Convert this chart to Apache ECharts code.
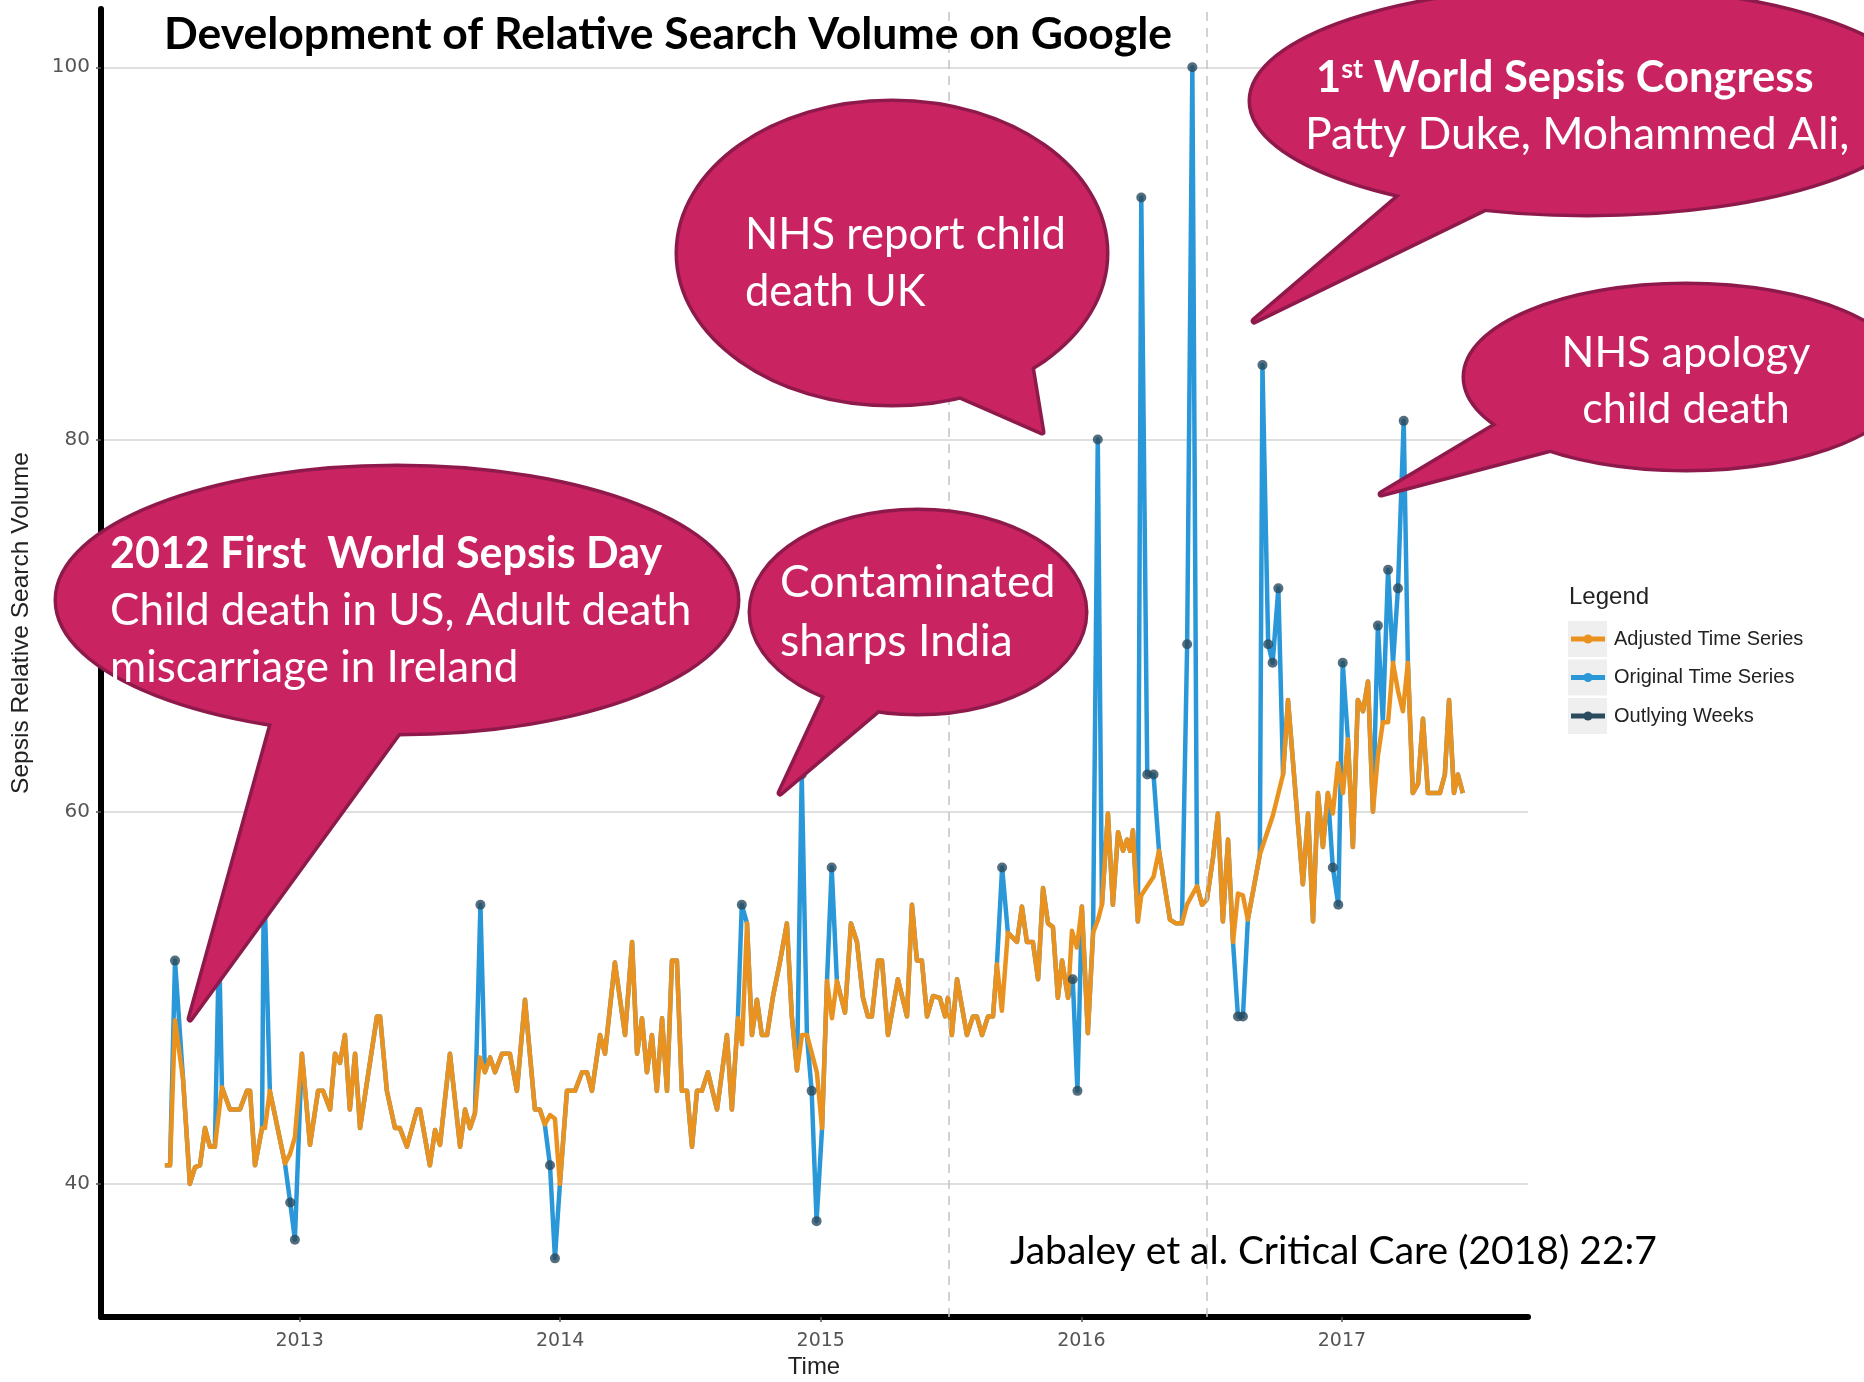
<!DOCTYPE html>
<html><head><meta charset="utf-8">
<script src="https://cdn.jsdelivr.net/npm/echarts@6/dist/echarts.min.js"></script>
<style>html,body{margin:0;padding:0;background:#fff}#c{width:1864px;height:1382px}</style>
</head><body><div id="c"></div><script>
// ---- data (x = decimal year, y = relative search volume) ----
const xTicks = [2013, 2014, 2015, 2016, 2017];
const yTicks = [40, 60, 80, 100];
const adjusted = [
[2012.483,41.0],[2012.503,41.0],[2012.522,48.8],[2012.553,45.6],[2012.579,40.0],[2012.599,40.9],[2012.618,41.0],[2012.637,43.0],[2012.656,42.0],[2012.675,42.0],[2012.702,45.2],[2012.733,44.0],[2012.771,44.0],[2012.798,45.0],[2012.810,45.0],[2012.829,41.0],[2012.856,43.0],[2012.867,43.0],[2012.886,45.0],[2012.944,41.1],[2012.963,41.6],[2012.982,42.5],
[2013.009,47.0],[2013.040,42.1],[2013.071,45.0],[2013.090,45.0],[2013.117,44.0],[2013.136,47.0],[2013.155,46.5],[2013.174,48.0],[2013.193,44.0],[2013.213,47.0],[2013.232,43.0],[2013.297,49.0],[2013.309,49.0],[2013.335,45.0],[2013.366,43.0],[2013.385,43.0],[2013.412,42.0],[2013.451,44.0],[2013.462,44.0],[2013.500,41.0],[2013.520,42.9],[2013.539,42.1],[2013.577,47.0],[2013.616,42.0],[2013.635,44.0],[2013.654,43.0],[2013.673,43.8],[2013.692,46.8],[2013.711,46.0],[2013.731,46.8],[2013.750,46.0],[2013.777,47.0],[2013.807,47.0],[2013.834,45.0],[2013.865,49.9],[2013.903,44.0],[2013.922,44.0],[2013.941,43.2],[2013.961,43.7],[2013.980,43.5],[2013.999,40.0],
[2014.026,45.0],[2014.057,45.0],[2014.084,46.0],[2014.103,46.0],[2014.122,45.0],[2014.153,48.0],[2014.172,47.0],[2014.210,51.9],[2014.249,48.0],[2014.276,53.0],[2014.295,47.0],[2014.314,48.9],[2014.333,46.0],[2014.352,48.0],[2014.371,45.0],[2014.391,48.9],[2014.410,45.0],[2014.429,52.0],[2014.448,52.0],[2014.467,45.0],[2014.487,45.0],[2014.506,42.0],[2014.525,45.0],[2014.544,45.0],[2014.567,46.0],[2014.602,44.0],[2014.640,48.0],[2014.659,44.0],[2014.682,48.9],[2014.698,47.5],[2014.717,54.0],[2014.736,48.0],[2014.755,49.9],[2014.774,48.0],[2014.794,48.0],[2014.817,50.1],[2014.843,51.9],[2014.870,54.0],[2014.889,49.0],[2014.909,46.1],[2014.928,48.0],[2014.947,48.0],[2014.966,47.0],[2014.985,46.0],
[2015.005,43.0],[2015.024,50.9],[2015.043,48.9],[2015.062,50.9],[2015.093,49.2],[2015.116,54.0],[2015.139,53.0],[2015.162,50.0],[2015.181,49.0],[2015.196,49.0],[2015.220,52.0],[2015.235,52.0],[2015.258,48.0],[2015.296,51.0],[2015.331,49.0],[2015.350,55.0],[2015.369,52.0],[2015.388,52.0],[2015.408,49.0],[2015.431,50.1],[2015.457,50.0],[2015.477,49.0],[2015.488,50.0],[2015.503,48.0],[2015.523,51.0],[2015.561,48.0],[2015.584,49.0],[2015.599,49.0],[2015.619,48.0],[2015.642,49.0],[2015.661,49.0],[2015.676,51.8],[2015.695,49.3],[2015.718,53.5],[2015.753,53.0],[2015.772,54.9],[2015.791,53.0],[2015.814,53.0],[2015.834,51.0],[2015.853,55.9],[2015.872,54.0],[2015.891,53.8],[2015.910,50.0],[2015.926,52.0],[2015.949,50.0],[2015.964,53.6],[2015.983,52.7],
[2016.002,54.9],[2016.025,48.1],[2016.045,53.5],[2016.064,54.2],[2016.079,55.0],[2016.102,59.9],[2016.121,55.0],[2016.141,58.9],[2016.160,57.9],[2016.175,58.5],[2016.187,57.9],[2016.198,59.0],[2016.217,54.1],[2016.230,55.5],[2016.253,56.0],[2016.277,56.5],[2016.298,57.9],[2016.340,54.2],[2016.363,54.0],[2016.386,54.0],[2016.405,55.0],[2016.424,55.5],[2016.444,56.0],[2016.463,55.0],[2016.482,55.3],[2016.505,57.5],[2016.524,59.9],[2016.543,54.1],[2016.563,58.5],[2016.582,53.0],[2016.601,55.6],[2016.620,55.5],[2016.639,54.2],[2016.685,57.7],[2016.735,59.8],[2016.774,62.0],[2016.793,66.0],[2016.850,56.1],[2016.870,59.9],[2016.889,54.1],[2016.908,61.0],[2016.927,58.1],[2016.946,61.0],[2016.965,59.9],[2016.985,62.6],
[2017.004,61.0],[2017.023,63.9],[2017.042,58.1],[2017.061,66.0],[2017.081,65.4],[2017.100,67.0],[2017.119,60.0],[2017.138,63.0],[2017.157,64.8],[2017.177,64.8],[2017.196,68.0],[2017.215,66.5],[2017.234,65.4],[2017.253,68.0],[2017.272,61.0],[2017.292,61.5],[2017.311,65.0],[2017.330,61.0],[2017.349,61.0],[2017.376,61.0],[2017.395,62.0],[2017.411,66.0],[2017.430,61.0],[2017.445,62.0],[2017.464,61.0]
];
const outliers = [
[2012.522,52],[2012.691,53],[2012.863,57],[2012.964,39],[2012.982,37],[2013.694,55],[2013.961,41],[2013.980,36],[2014.697,55],[2014.927,62],[2014.965,45],[2014.984,38],[2015.042,57],[2015.696,57],[2015.967,51],[2015.985,45],[2016.063,80],[2016.230,93],[2016.253,62],[2016.277,62],[2016.406,69],[2016.426,100],[2016.601,49],[2016.620,49],[2016.695,84],[2016.717,69],[2016.734,68],[2016.756,72],[2016.965,57],[2016.986,55],[2017.003,68],[2017.138,70],[2017.177,73],[2017.215,72],[2017.237,81]
];
const eventLines = [2015.486, 2016.485];
const legendNames = ['Adjusted Time Series', 'Original Time Series', 'Outlying Weeks'];

// original series = adjusted series with the outlying weeks restored
const original = adjusted
  .filter(p => !outliers.some(o => Math.abs(o[0] - p[0]) < 0.006))
  .concat(outliers)
  .sort((a, b) => a[0] - b[0]);

const ORANGE = '#EA921F', BLUE = '#2A98D8', DARK = '#2A4A5D';
const FILL = '#C92361', EDGE = '#8E1A4C';

function bubble(cx, cy, rx, ry, tail) {
  return [
    {type:'polygon', z:100, shape:{points:tail}, style:{fill:FILL, stroke:EDGE, lineWidth:7, lineJoin:'round'}},
    {type:'ellipse', z:100, shape:{cx, cy, rx, ry}, style:{fill:FILL, stroke:EDGE, lineWidth:7}},
    {type:'polygon', z:101, shape:{points:tail}, style:{fill:FILL}},
    {type:'ellipse', z:101, shape:{cx, cy, rx, ry}, style:{fill:FILL}}
  ];
}
function txt(x, y, s, size, extra) {
  return {type:'text', z:102, x, y, style:Object.assign({
    text:s, fill:'#fff', fontSize:size, fontFamily:'Lato', fontWeight:'normal',
    align:'left', verticalAlign:'middle'}, extra || {})};
}

const graphics = [].concat(
  // title
  [txt(668, 35, 'Development of Relative Search Volume on Google', 44.5, {fill:'#000', fontWeight:'bold', align:'center'})],
  // axis names
  [txt(814, 1367, 'Time', 24, {fill:'#222', fontFamily:'Liberation Sans', align:'center'}),
   {type:'text', z:102, x:21, y:623, rotation:Math.PI/2, style:{text:'Sepsis Relative Search Volume', fill:'#222', fontSize:24.5, fontFamily:'Liberation Sans', align:'center', verticalAlign:'middle'}}],
  // citation
  [txt(1010, 1251, 'Jabaley et al. Critical Care (2018) 22:7', 39, {fill:'#000'})],
  // bubbles
  bubble(397, 600, 340, 133, [[284,680],[437,680],[190,1019]]),
  bubble(918, 612, 167, 101, [[842,660],[937,660],[780,793]]),
  bubble(892, 253, 214, 151, [[905,372],[1025,328],[1042,432]]),
  bubble(1587, 101, 336, 113, [[1429,171],[1556,174],[1254,321]]),
  bubble(1686, 377, 221, 92, [[1570,381],[1624,430],[1381,494]]),
  // bubble texts
  [txt(110, 554, '2012 First  World Sepsis Day', 43, {fontWeight:'bold'}),
   txt(110, 611, 'Child death in US, Adult death', 44),
   txt(110, 668, 'miscarriage in Ireland', 44),
   txt(780, 583, 'Contaminated', 44.5),
   txt(780, 642, 'sharps India', 44.5),
   txt(745, 235, 'NHS report child', 43.5),
   txt(745, 292, 'death UK', 43.5),
   {type:'text', z:102, x:1316, y:78, style:{
     text:'{a|1}{s|st}{a| World Sepsis Congress}', align:'left', verticalAlign:'middle',
     rich:{a:{fontSize:43.5, fontFamily:'Lato', fontWeight:'bold', fill:'#fff', color:'#fff'},
           s:{fontSize:27, fontFamily:'Lato', fontWeight:'bold', fill:'#fff', color:'#fff', verticalAlign:'top'}}}},
   txt(1305, 135, 'Patty Duke, Mohammed Ali,', 44.5),
   txt(1686, 353, 'NHS apology', 43, {align:'center'}),
   txt(1686, 409, 'child death', 43, {align:'center'})],
  // legend
  [txt(1569, 597, 'Legend', 24, {fill:'#222', fontFamily:'Liberation Sans'})]
);
const legendColors = [ORANGE, BLUE, DARK];
const rowY = [639, 677.5, 716];
legendNames.forEach((n, i) => {
  graphics.push({type:'rect', z:50, shape:{x:1568, y:rowY[i]-18, width:39, height:36}, style:{fill:'#EFEFEF'}});
  graphics.push({type:'line', z:51, shape:{x1:1571, y1:rowY[i], x2:1605, y2:rowY[i]}, style:{stroke:legendColors[i], lineWidth:5}});
  graphics.push({type:'circle', z:52, shape:{cx:1588, cy:rowY[i], r:4.5}, style:{fill:legendColors[i]}});
  graphics.push(txt(1614, rowY[i], n, 20, {fill:'#222', fontFamily:'Liberation Sans'}));
});

const chart = echarts.init(document.getElementById('c'), null, {renderer:'canvas'});
chart.setOption({
  animation:false,
  backgroundColor:'#fff',
  grid:{left:101, right:336, top:9, bottom:65, containLabel:false},
  xAxis:{
    type:'value', min:2012.238, max:2017.714,
    axisLine:{show:true, onZero:false, lineStyle:{color:'#000', width:6}},
    axisTick:{show:true, length:5, customValues:xTicks, lineStyle:{color:'#555', width:1.5}},
    axisLabel:{customValues:xTicks, margin:15, color:'#555', fontSize:19, fontFamily:'DejaVu Sans', formatter:v => String(v)},
    splitLine:{show:false}
  },
  yAxis:{
    type:'value', min:32.85, max:103.13,
    axisLine:{show:true, onZero:false, lineStyle:{color:'#000', width:6}},
    axisTick:{show:true, length:5, customValues:yTicks, lineStyle:{color:'#555', width:1.5}},
    axisLabel:{customValues:yTicks, margin:11, color:'#555', fontSize:20, fontFamily:'DejaVu Sans', formatter:v => String(v)},
    splitLine:{show:true, lineStyle:{color:'#D4D4D4', width:1.5}}
  },
  series:[
    {type:'line', name:'events', data:[], z:1, silent:true,
     markLine:{silent:true, symbol:'none', label:{show:false},
       lineStyle:{color:'#C4C4C4', type:[9,7], width:1.5},
       data:eventLines.map(v => ({xAxis:v}))}},
    {type:'line', name:'Original Time Series', data:original, showSymbol:false, z:2,
     lineStyle:{color:BLUE, width:4.5, join:'round'}},
    {type:'line', name:'Adjusted Time Series', data:adjusted, showSymbol:false, z:3,
     lineStyle:{color:ORANGE, width:4.5, join:'round'}},
    {type:'scatter', name:'Outlying Weeks', data:outliers, z:4, symbolSize:10,
     itemStyle:{color:DARK}}
  ],
  graphic:{elements:graphics}
});
</script></body></html>
